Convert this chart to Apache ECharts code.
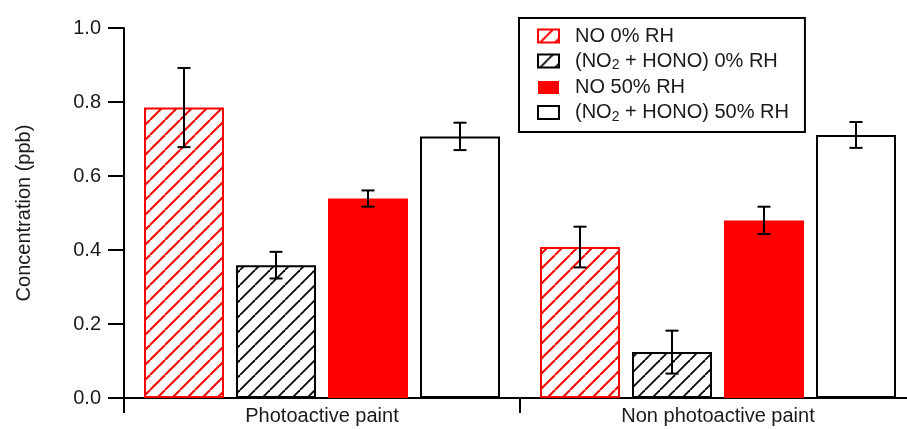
<!DOCTYPE html>
<html>
<head>
<meta charset="utf-8">
<script src="https://cdn.jsdelivr.net/npm/echarts@6/dist/echarts.min.js"></script>
<style>html,body{margin:0;padding:0;background:#fff;overflow:hidden;}#c{width:920px;height:429px;}</style>
</head>
<body>
<div id="c"></div>
<script>
// ---- data ----
var categories = ['Photoactive paint', 'Non photoactive paint'];
var seriesNames = ['NO 0% RH', '(NO2 + HONO) 0% RH', 'NO 50% RH', '(NO2 + HONO) 50% RH'];
var no0 = [0.785, 0.408];
var no0Err = [0.107, 0.055];
var noHono0 = [0.359, 0.124];
var noHono0Err = [0.036, 0.058];
var no50 = [0.539, 0.480];
var no50Err = [0.022, 0.037];
var noHono50 = [0.707, 0.711];
var noHono50Err = [0.037, 0.035];
var yTicks = [0, 0.2, 0.4, 0.6, 0.8, 1.0];

var values = [no0, noHono0, no50, noHono50];
var errors = [no0Err, noHono0Err, no50Err, noHono50Err];

function hatch(color, lw, size) {
  var cv = document.createElement('canvas');
  cv.width = size; cv.height = size;
  var ctx = cv.getContext('2d');
  ctx.fillStyle = '#fff';
  ctx.fillRect(0, 0, size, size);
  ctx.strokeStyle = color;
  ctx.lineWidth = lw;
  for (var k = -1; k <= 1; k++) {
    ctx.beginPath();
    ctx.moveTo(k * size, size);
    ctx.lineTo(k * size + size, 0);
    ctx.stroke();
  }
  return { image: cv, repeat: 'repeat' };
}

var BAR_W = 80, GAP = 12;
var txt = '#1a1a1a';
var font = 'Liberation Sans';
var FS = 20;

var styles = [
  { color: hatch('#ff0000', 2, 15), borderColor: '#ff0000', borderWidth: 2 },
  { color: hatch('#000000', 1.8, 15), borderColor: '#000000', borderWidth: 2 },
  { color: '#ff0000', borderColor: '#ff0000', borderWidth: 0 },
  { color: '#ffffff', borderColor: '#000000', borderWidth: 2 }
];

var series = values.map(function (v, i) {
  return {
    name: seriesNames[i],
    type: 'bar',
    data: v,
    barWidth: BAR_W,
    barGap: (GAP / BAR_W * 100) + '%',
    itemStyle: styles[i],
    emphasis: { disabled: true },
    animation: false
  };
});

var errData = [];
values.forEach(function (v, s) {
  v.forEach(function (val, c) { errData.push([c, s, val, errors[s][c]]); });
});

series.push({
  type: 'custom',
  data: errData,
  z: 10,
  animation: false,
  encode: { x: 0, y: 2 },
  renderItem: function (params, api) {
    var cat = api.value(0), s = api.value(1), v = api.value(2), e = api.value(3);
    var off = (s - 1.5) * (BAR_W + GAP);
    var x = api.coord([cat, v])[0] + off;
    var yt = api.coord([cat, v + e])[1];
    var yb = api.coord([cat, v - e])[1];
    var hw = 6.5;
    var st = { stroke: '#000', lineWidth: 2 };
    return {
      type: 'group',
      children: [
        { type: 'line', shape: { x1: x, y1: yt, x2: x, y2: yb }, style: st },
        { type: 'line', shape: { x1: x - hw, y1: yt, x2: x + hw, y2: yt }, style: st },
        { type: 'line', shape: { x1: x - hw, y1: yb, x2: x + hw, y2: yb }, style: st }
      ]
    };
  }
});

var chart = echarts.init(document.getElementById('c'), null, { renderer: 'canvas' });
chart.setOption({
  animation: false,
  textStyle: { fontFamily: font, color: txt },
  grid: { left: 124, top: 28, right: 4, height: 370 },
  legend: {
    data: seriesNames,
    orient: 'vertical',
    left: 519, top: 18,
    padding: [8, 16, 8, 18],
    itemWidth: 21, itemHeight: 13,
    itemGap: 5,
    borderColor: '#000', borderWidth: 2,
    backgroundColor: '#fff',
    selectedMode: false,
    icon: 'rect',
    formatter: function (n) { return n.replace('NO2', 'NO{s|2}'); },
    textStyle: {
      fontFamily: font, fontSize: FS, color: txt,
      padding: [0, 0, 0, 11],
      rich: { s: { fontFamily: font, fontSize: 14, color: txt, padding: [9, 0, 0, 0] } }
    }
  },
  xAxis: {
    type: 'category',
    data: categories,
    axisLine: { lineStyle: { color: '#000', width: 2 } },
    axisTick: { show: true, length: 15, lineStyle: { color: '#000', width: 2 } },
    axisLabel: { fontFamily: font, fontSize: FS, color: txt, margin: 8 },
    splitLine: { show: false }
  },
  yAxis: {
    type: 'value',
    min: 0, max: 1, interval: 0.2,
    name: 'Concentration (ppb)',
    nameLocation: 'middle',
    nameGap: 90,
    nameTextStyle: { fontFamily: font, fontSize: FS, color: txt },
    axisLine: { show: true, lineStyle: { color: '#000', width: 2 } },
    axisTick: { show: true, length: 16, lineStyle: { color: '#000', width: 2 } },
    axisLabel: {
      fontFamily: font, fontSize: FS, color: txt, margin: 23,
      formatter: function (v) {
        for (var i = 0; i < yTicks.length; i++) if (Math.abs(yTicks[i] - v) < 1e-9) return yTicks[i].toFixed(1);
        return '';
      }
    },
    splitLine: { show: false }
  },
  series: series
});
</script>
</body>
</html>
